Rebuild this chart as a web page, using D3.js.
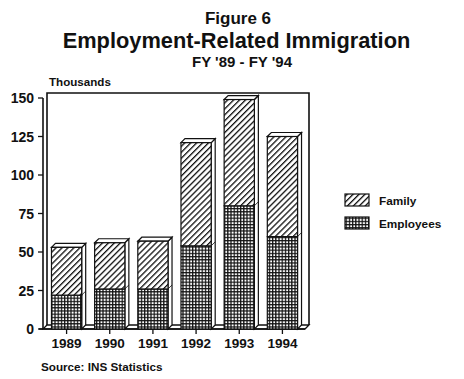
<!DOCTYPE html>
<html><head><meta charset="utf-8">
<script src="https://cdn.jsdelivr.net/npm/d3@7"></script>
<style>
html,body{margin:0;padding:0;background:#fff;}
svg{display:block;}
text{font-family:"Liberation Sans",Arial,Helvetica,sans-serif;font-weight:bold;fill:#111;}
</style></head>
<body>
<script>
const years = ["1989","1990","1991","1992","1993","1994"];
const employees = [22, 26, 26, 54, 80, 60];
const family = [31, 30, 31, 67, 69, 65];
const yTicks = [0, 25, 50, 75, 100, 125, 150];
const seriesNames = ["Family", "Employees"];

const W = 464, H = 379;
const svg = d3.select("body").append("svg").attr("width", W).attr("height", H);
const defs = svg.append("defs");

// hatch patterns
const ph = defs.append("pattern").attr("id","hatch").attr("patternUnits","userSpaceOnUse")
  .attr("width",4.2).attr("height",4.2).attr("patternTransform","rotate(45)");
ph.append("rect").attr("width",4.2).attr("height",4.2).attr("fill","#fff");
ph.append("line").attr("x1",0).attr("y1",0).attr("x2",0).attr("y2",4.2).attr("stroke","#111").attr("stroke-width",2.6);

const pg = defs.append("pattern").attr("id","grid").attr("patternUnits","userSpaceOnUse")
  .attr("width",3.2).attr("height",3.2);
pg.append("rect").attr("width",3.2).attr("height",3.2).attr("fill","#fff");
pg.append("path").attr("d","M0,0.6H3.2M0.6,0V3.2").attr("stroke","#111").attr("stroke-width",1.3);

const y = d3.scaleLinear().domain([0,150]).range([329,98]);
const x = d3.scaleBand().domain(years).range([45,304]).paddingInner(0.3).paddingOuter(0.15);
const dx = 4, dy = -4;
const axX = 43;

// title
svg.append("text").attr("x",238).attr("y",23.5).attr("text-anchor","middle").attr("font-size",17).text("Figure 6");
svg.append("text").attr("x",236.5).attr("y",47.5).attr("text-anchor","middle").attr("font-size",21.8).text("Employment-Related Immigration");
svg.append("text").attr("x",242).attr("y",66.5).attr("text-anchor","middle").attr("font-size",15).text("FY '89 - FY '94");
svg.append("text").attr("x",49).attr("y",85.5).attr("font-size",11.6).text("Thousands");

// frame (back wall, floor)
const g = svg.append("g").attr("fill","none").attr("stroke","#111");
const xL = axX, xR = x.range()[1] + 1, yB = y(0), yT = y(150);
g.append("path").attr("d",`M${xL+dx},${yB+dy}V${yT+dy-1}H${xR+dx}V${yB+dy}`).attr("stroke-width",1.6);
g.append("path").attr("d",`M${xL},${yB}H${xR}L${xR+dx},${yB+dy}H${xL+dx}Z`).attr("fill","#fff").attr("stroke-width",1.3);
g.append("line").attr("x1",xL).attr("x2",xL).attr("y1",yT).attr("y2",yB).attr("stroke-width",1.6);
g.append("line").attr("x1",xL-4).attr("x2",xR).attr("y1",yB).attr("y2",yB).attr("stroke-width",1.6);

// y ticks
yTicks.forEach(t => {
  g.append("line").attr("x1",xL-5).attr("x2",xL).attr("y1",y(t)).attr("y2",y(t)).attr("stroke-width",1.3);
  svg.append("text").attr("x",34).attr("y",y(t)).attr("dy","0.36em").attr("text-anchor","end")
    .attr("font-size",14).text(t);
});

// bars
const bars = svg.append("g").attr("stroke","#111").attr("stroke-width",1.2);
years.forEach((yr,i) => {
  const x0 = x(yr), x1 = x0 + x.bandwidth();
  const e = employees[i], tot = employees[i] + family[i];
  const yb = y(0), ye = y(e), yt = y(tot);
  // side face
  bars.append("path").attr("d",`M${x1},${yb}L${x1+dx},${yb+dy}V${yt+dy}L${x1},${yt}Z`).attr("fill","#fff");
  bars.append("line").attr("x1",x1).attr("x2",x1+dx).attr("y1",ye).attr("y2",ye+dy).attr("stroke-width",0.8);
  // top face
  bars.append("path").attr("d",`M${x0},${yt}L${x0+dx},${yt+dy}H${x1+dx}L${x1},${yt}Z`).attr("fill","#fff");
  // front faces
  bars.append("rect").attr("x",x0).attr("y",ye).attr("width",x.bandwidth()).attr("height",yb-ye).attr("fill","url(#grid)");
  bars.append("rect").attr("x",x0).attr("y",yt).attr("width",x.bandwidth()).attr("height",ye-yt).attr("fill","url(#hatch)");
  // x tick and label
  const cx = x0 + x.bandwidth()/2;
  g.append("line").attr("x1",cx).attr("x2",cx).attr("y1",yb).attr("y2",yb+5).attr("stroke-width",1.3);
  svg.append("text").attr("x",cx).attr("y",348).attr("text-anchor","middle").attr("font-size",13.5).text(yr);
});

// legend
const fills = ["url(#hatch)","url(#grid)"];
seriesNames.forEach((n,i) => {
  const ly = 194 + i*23;
  svg.append("rect").attr("x",345).attr("y",ly).attr("width",24).attr("height",12)
    .attr("fill",fills[i]).attr("stroke","#111").attr("stroke-width",1.2);
  svg.append("text").attr("x",379).attr("y",ly+11).attr("font-size",11.8).text(n);
});

svg.append("text").attr("x",41).attr("y",371).attr("font-size",11.7).text("Source: INS Statistics");
</script>
</body></html>
